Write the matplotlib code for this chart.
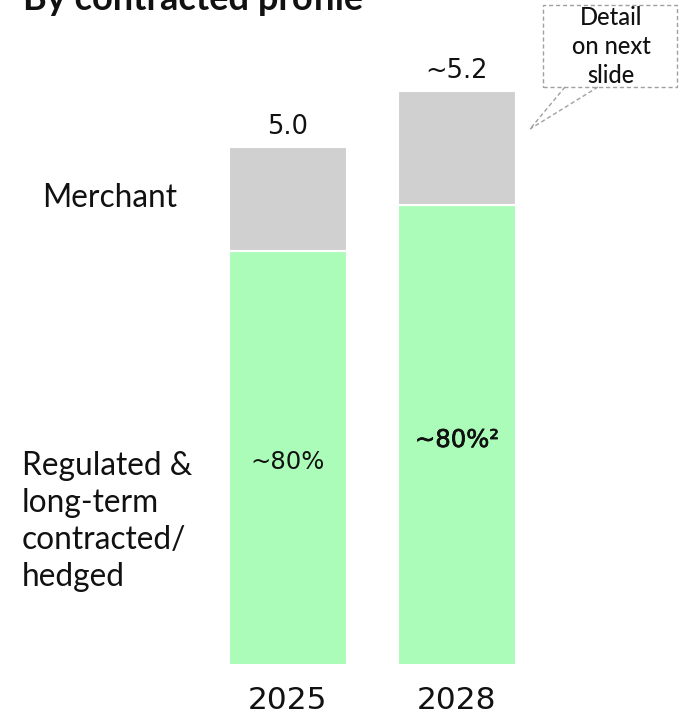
import matplotlib
matplotlib.use("Agg")
import matplotlib.pyplot as plt
from matplotlib.patches import Rectangle
from matplotlib.lines import Line2D
import matplotlib.transforms as mtransforms
import matplotlib.patheffects as pe

# ---- data ----
years = ["2025", "2028"]
regulated = [4.0, 4.44]
merchant = [1.0, 1.10]
total_labels = ["5.0", "~5.2"]
share_labels = ["~80%", "~80%²"]
segment_names = ["Merchant", "Regulated &\nlong-term\ncontracted/\nhedged"]
title = "By contracted profile"
callout_text = "Detail\non next\nslide"

GREEN = "#AAFCB8"
GREY = "#D0D0D0"
INK = "#111111"
W, H = 692, 715

fig = plt.figure(figsize=(W / 100, H / 100), dpi=100)
fig.patch.set_facecolor("white")

def fx(px):
    return px / W

def fy(py):
    return 1 - py / H

# axes: bottom of bars at y=665px, 1 unit = 103.6 px
ax = fig.add_axes([0, fy(665), 1, 6 * 103.6 / H])
ax.set_ylim(0, 6)
ax.set_xlim(-288 / 169, (W - 288) / 169)
ax.axis("off")

x = list(range(len(years)))
bw = 118 / 169
ax.bar(x, regulated, width=bw, color=GREEN, edgecolor="white", linewidth=1.5)
ax.bar(x, merchant, bottom=regulated, width=bw, color=GREY, edgecolor="white", linewidth=1.5)

num_font = "DejaVu Sans"
lab_font = "Lato"
share_frac = [0.473, 0.474]

for i in x:
    top = regulated[i] + merchant[i]
    off_top = mtransforms.offset_copy(ax.transData, fig=fig, x=0, y=13, units="dots")
    ax.text(i, top, total_labels[i], transform=off_top, ha="center", va="baseline",
            fontsize=18.5, family=num_font, color=INK)
    off_bot = mtransforms.offset_copy(ax.transData, fig=fig, x=0, y=-44, units="dots")
    ax.text(i, 0, years[i], transform=off_bot, ha="center", va="baseline",
            fontsize=22.5, family=num_font, color=INK)
    t = ax.text(i, regulated[i] * share_frac[i], share_labels[i],
                ha="center", va="baseline", fontsize=17.5,
                family=num_font, color=INK)
    if i == 1:
        t.set_path_effects([pe.withStroke(linewidth=0.5, foreground=INK)])

# left segment labels (va=baseline aligns the last line for multi-line text)
fig.text(fx(42), fy(207), segment_names[0], ha="left", va="baseline",
         fontsize=22.8, family=lab_font, color=INK)
fig.text(fx(22), fy(586), segment_names[1], ha="left", va="baseline",
         fontsize=22.8, family=lab_font, color=INK, linespacing=1.29)

# title (cut off at top, as in the source slide)
fig.text(fx(23), fy(10), title, ha="left", va="baseline", fontsize=26,
         family=lab_font, fontweight="bold", color=INK)

# callout box
box = Rectangle((fx(543), fy(87)), fx(677) - fx(543), fy(5) - fy(87),
                transform=fig.transFigure, fill=False, edgecolor="#A0A0A0",
                linestyle=(0, (3, 2)), linewidth=1)
fig.add_artist(box)
fig.text(fx(611), fy(83), callout_text, ha="center", va="baseline",
         fontsize=17, family=lab_font, fontweight="medium", color=INK,
         linespacing=1.31)
for (x0, y0) in [(565, 87), (598, 87)]:
    fig.add_artist(Line2D([fx(x0), fx(530)], [fy(y0), fy(129)], transform=fig.transFigure,
                          color="#A0A0A0", linestyle=(0, (3, 2)), linewidth=1))

fig.savefig("out.png", dpi=100, facecolor="white")
